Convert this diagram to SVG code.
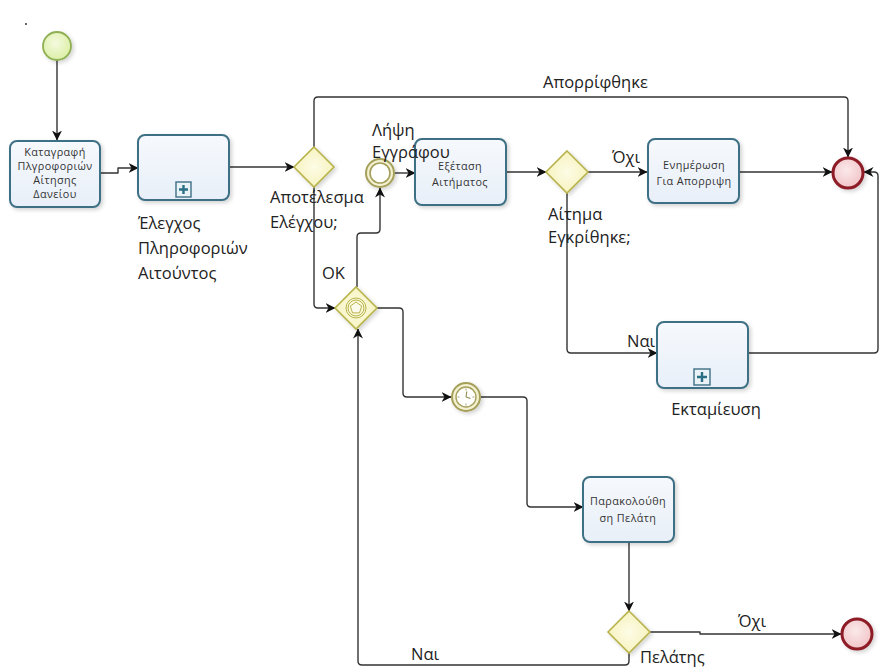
<svg xmlns="http://www.w3.org/2000/svg" width="883" height="670" viewBox="0 0 883 670">
  <style>
    .task { fill: url(#taskFill); stroke: #3e6f84; stroke-width: 2; }
    .gw { fill: url(#gwFill); stroke: #b8b34c; stroke-width: 1.6; }
    .flow { fill: none; stroke: #333; stroke-width: 1.4; stroke-linejoin: round; marker-end: url(#arrow); }
    .small { font-family: "Open Sans", "Noto Sans", sans-serif; font-size: 10.8px; letter-spacing: 0.4px; fill: #333; text-anchor: middle; }
    .lbl { font-family: "Open Sans", "Noto Sans", sans-serif; font-size: 16.5px; fill: #222; }
    .mk { fill: #e9f3f7; stroke: #3e6f84; stroke-width: 1.4; }
  </style>
  <defs>
    <linearGradient id="taskFill" x1="0" y1="0" x2="0" y2="1">
      <stop offset="0" stop-color="#f6f9fd"/>
      <stop offset="1" stop-color="#e8eff8"/>
    </linearGradient>
    <radialGradient id="gwFill" cx="0.5" cy="0.5" r="0.6">
      <stop offset="0" stop-color="#fdfce6"/>
      <stop offset="1" stop-color="#f5f1b8"/>
    </radialGradient>
    <radialGradient id="startFill" cx="0.45" cy="0.4" r="0.6">
      <stop offset="0" stop-color="#f4fadf"/>
      <stop offset="1" stop-color="#dcefa6"/>
    </radialGradient>
    <radialGradient id="endFill" cx="0.45" cy="0.4" r="0.6">
      <stop offset="0" stop-color="#fbe9ea"/>
      <stop offset="1" stop-color="#f1c4c7"/>
    </radialGradient>
    <radialGradient id="interFill" cx="0.5" cy="0.5" r="0.6">
      <stop offset="0" stop-color="#fbfbee"/>
      <stop offset="1" stop-color="#efedc6"/>
    </radialGradient>
    <filter id="shadow" x="-20%" y="-20%" width="150%" height="150%">
      <feGaussianBlur in="SourceAlpha" stdDeviation="2"/>
      <feOffset dx="2" dy="2"/>
      <feComponentTransfer><feFuncA type="linear" slope="0.18"/></feComponentTransfer>
      <feMerge><feMergeNode/><feMergeNode in="SourceGraphic"/></feMerge>
    </filter>
    <marker id="arrow" viewBox="0 0 10 10" refX="9.5" refY="5" markerWidth="10" markerHeight="10" markerUnits="userSpaceOnUse" orient="auto">
      <path d="M0,0 L10,5 L0,10 L3,5 z" fill="#111"/>
    </marker>
  </defs>

  <rect width="883" height="670" fill="#ffffff"/>
  <circle cx="26" cy="24" r="1" fill="#333"/>

  <!-- sequence flows -->
  <g id="connectors">
    <path class="flow" d="M57,60 V140"/>
    <path class="flow" d="M100,173 H118 V168 H138"/>
    <path class="flow" d="M229,167 H294"/>
    <path class="flow" d="M314,147 V101 Q314,97 318,97 H844 Q848,97 848,101 V157"/>
    <path class="flow" d="M314,187 V304 Q314,308 318,308 H335"/>
    <path class="flow" d="M357,287 V237 Q357,233 361,233 H376 Q380,233 380,229 V188"/>
    <path class="flow" d="M395,173 H415"/>
    <path class="flow" d="M506,172 H546"/>
    <path class="flow" d="M588,172 H647"/>
    <path class="flow" d="M739,172 H832"/>
    <path class="flow" d="M567,193 V349 Q567,353 571,353 H657"/>
    <path class="flow" d="M748,353 H874 Q878,353 878,349 V176 Q878,172 874,172 H864"/>
    <path class="flow" d="M377,308 H399 Q403,308 403,312 V393 Q403,397 407,397 H451"/>
    <path class="flow" d="M481,397 H523 Q527,397 527,401 V503 Q527,507 531,507 H583"/>
    <path class="flow" d="M629,542 V611"/>
    <path class="flow" d="M649,632 H700 V634 H841"/>
    <path class="flow" d="M629,653 V661 Q629,665 625,665 H362 Q358,665 358,661 V329"/>
  </g>

  <!-- start -->
  <g id="start">
    <circle cx="57" cy="46" r="14" fill="url(#startFill)" stroke="#8eaf52" stroke-width="1.8" filter="url(#shadow)"/>
  </g>

  <g id="task-register">
    <rect class="task" x="10" y="141" width="90" height="66" rx="7" filter="url(#shadow)"/>
    <text class="small" x="55" y="156">Καταγραφή</text>
    <text class="small" x="55" y="170">Πλγροφοριών</text>
    <text class="small" x="55" y="184">Αίτησης</text>
    <text class="small" x="55" y="198">Δανείου</text>
  </g>

  <g id="sub-check">
    <rect class="task" x="138" y="135" width="91" height="65" rx="7" filter="url(#shadow)"/>
    <rect class="mk" x="176" y="182" width="15" height="15"/>
    <path d="M183.5,185 V194 M179,189.5 H188" stroke="#2a6f86" stroke-width="2.4"/>
    <text class="lbl" x="138" y="229">Έλεγχος</text>
    <text class="lbl" x="138" y="254">Πληροφοριών</text>
    <text class="lbl" x="138" y="279">Αιτούντος</text>
  </g>

  <g id="gw-check">
    <path class="gw" d="M314,147 L334,167 L314,187 L294,167 Z" filter="url(#shadow)"/>
    <text class="lbl" x="270" y="203">Αποτέλεσμα</text>
    <text class="lbl" x="270" y="228">Ελέγχου;</text>
  </g>

  <text class="lbl" x="543" y="88">Απορρίφθηκε</text>
  <text class="lbl" x="322" y="279">OK</text>

  <g id="ev-gateway">
    <path class="gw" d="M356,287 L377,308 L356,329 L335,308 Z" filter="url(#shadow)"/>
    <circle cx="356" cy="308" r="10" fill="none" stroke="#b8b34c" stroke-width="1"/>
    <circle cx="356" cy="308" r="8" fill="none" stroke="#b8b34c" stroke-width="1"/>
    <path d="M356,302 L361.7,306.1 L359.5,312.9 L352.5,312.9 L350.3,306.1 Z" fill="#fbfaea" stroke="#b8b34c" stroke-width="1"/>
  </g>

  <g id="task-review">
    <rect class="task" x="415" y="139" width="91" height="66" rx="7" filter="url(#shadow)"/>
    <text class="small" x="460" y="170">Εξέταση</text>
    <text class="small" x="460" y="186">Αιτήματος</text>
  </g>

  <!-- message catch event; its label runs over the task box -->
  <g id="ev-document">
    <circle cx="380" cy="173" r="14" fill="url(#interFill)" stroke="#a59f5a" stroke-width="2" filter="url(#shadow)"/>
    <circle cx="380" cy="173" r="10" fill="#ffffff" stroke="#a59f5a" stroke-width="1.6"/>
    <text class="lbl" x="372" y="136">Λήψη</text>
    <text class="lbl" x="372" y="158">Εγγράφου</text>
  </g>

  <g id="gw-approved">
    <path class="gw" d="M567,151 L588,172 L567,193 L546,172 Z" filter="url(#shadow)"/>
    <text class="lbl" x="548" y="220">Αίτημα</text>
    <text class="lbl" x="548" y="243">Εγκρίθηκε;</text>
  </g>

  <text class="lbl" x="612" y="163">Όχι</text>

  <g id="task-notify">
    <rect class="task" x="648" y="139" width="91" height="64" rx="7" filter="url(#shadow)"/>
    <text class="small" x="694" y="169">Ενημέρωση</text>
    <text class="small" x="694" y="185">Για Απορριψη</text>
  </g>

  <g id="end-main">
    <circle cx="848" cy="173" r="15" fill="url(#endFill)" stroke="#8e1b26" stroke-width="3" filter="url(#shadow)"/>
  </g>

  <text class="lbl" x="627" y="347">Ναι</text>

  <g id="sub-disburse">
    <rect class="task" x="657" y="322" width="91" height="66" rx="7" filter="url(#shadow)"/>
    <rect class="mk" x="694" y="369" width="16" height="16"/>
    <path d="M702,372 V382 M697,377 H707" stroke="#2a6f86" stroke-width="2.4"/>
    <text class="lbl" x="716" y="415" text-anchor="middle">Εκταμίευση</text>
  </g>

  <g id="ev-timer">
    <circle cx="466" cy="397" r="14" fill="url(#interFill)" stroke="#a59f5a" stroke-width="2" filter="url(#shadow)"/>
    <circle cx="466" cy="397" r="10" fill="#ffffff" stroke="#a59f5a" stroke-width="1.4"/>
    <g stroke="#8f8a50" stroke-width="0.8">
      <path d="M466,388.5 V390.5 M466,403.5 V405.5 M457.5,397 H459.5 M472.5,397 H474.5"/>
      <path d="M466,397 L466.8,391.5 M466,397 L470.5,398.5" stroke-width="1.1"/>
    </g>
  </g>

  <g id="task-monitor">
    <rect class="task" x="583" y="477" width="91" height="65" rx="7" filter="url(#shadow)"/>
    <text class="small" x="628" y="505">Παρακολούθη</text>
    <text class="small" x="628" y="522">ση Πελάτη</text>
  </g>

  <g id="gw-client">
    <path class="gw" d="M629,611 L650,632 L629,653 L608,632 Z" filter="url(#shadow)"/>
    <text class="lbl" x="640" y="663">Πελάτης</text>
  </g>

  <text class="lbl" x="738" y="627">Όχι</text>
  <text class="lbl" x="411" y="660">Ναι</text>

  <g id="end-client">
    <circle cx="857" cy="634" r="15" fill="url(#endFill)" stroke="#8e1b26" stroke-width="3" filter="url(#shadow)"/>
  </g>
</svg>
